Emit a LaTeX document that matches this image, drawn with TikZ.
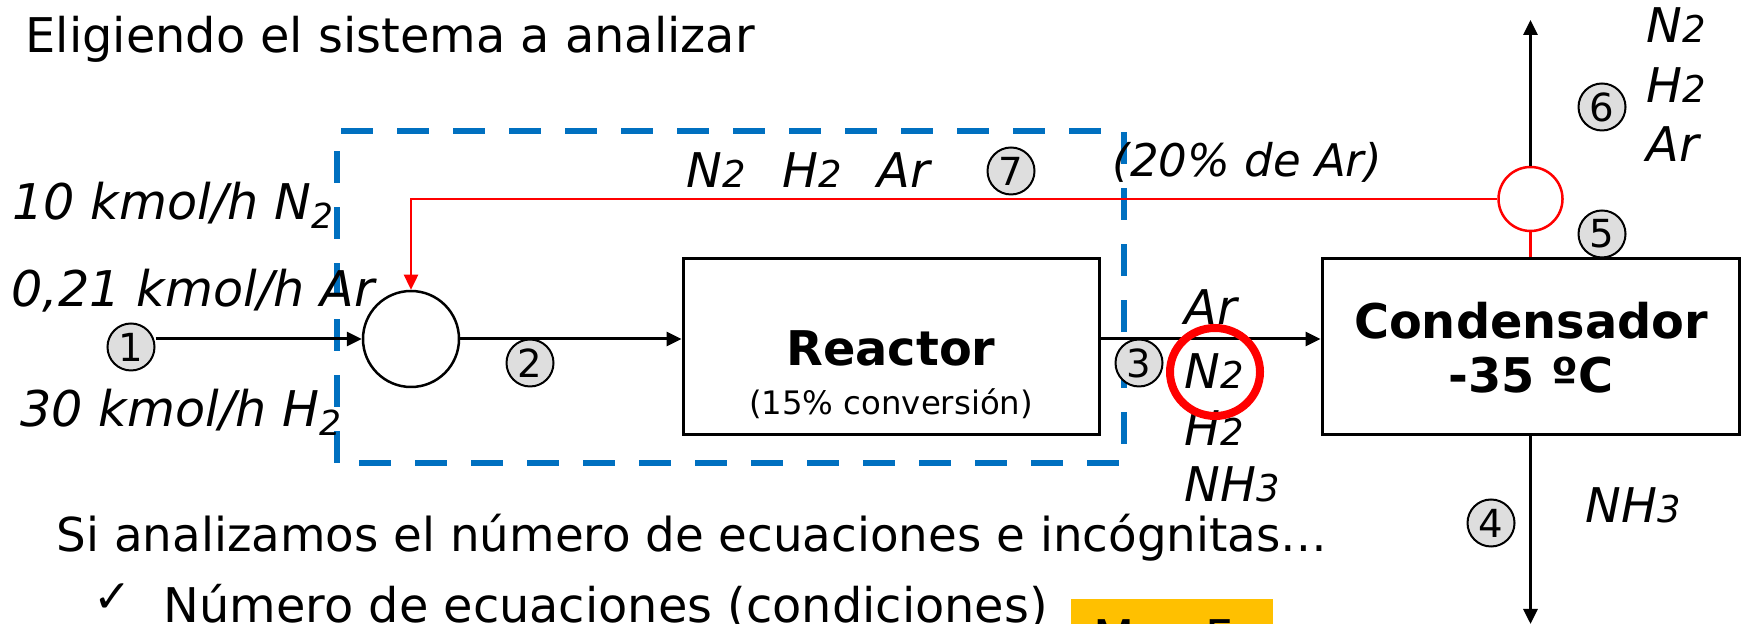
\documentclass[tikz,border=0pt]{standalone}
\usepackage{fontspec}
\setmainfont{DejaVu Sans}
\usetikzlibrary{arrows.meta, positioning, calc}

\definecolor{sysblue}{HTML}{0070C0}
\definecolor{hlyellow}{HTML}{FFC000}
\newcommand\mainsz{\fontsize{13.6}{16}\selectfont}
\newcommand\cmpd[2]{#1{\fontsize{10.5}{12}\selectfont #2}}

\begin{document}
\begin{tikzpicture}[
    >={Triangle[length=0.15cm, width=0.14cm]},
    txt/.style={anchor=base west, inner sep=0, font=\mainsz},
    species/.style={anchor=base west, inner sep=0, font=\mainsz\itshape},
    unit/.style={draw, line width=0.03cm, minimum width=4.16cm,
                 minimum height=1.76cm},
    num/.style={draw, circle, fill=black!13, line width=0.02cm,
                minimum size=0.47cm, inner sep=0,
                font=\fontsize{11}{12}\selectfont},
    flow/.style={->, line width=0.03cm},
    recyc/.style={red, line width=0.025cm}
  ]
  \useasboundingbox (0,0) rectangle (17.44,6.24);

  % Title
  \node[txt] (title) at (0.25,5.71) {Eligiendo el sistema a analizar};

  % System boundary
  \draw[sysblue, line width=0.06cm, dash pattern=on 0.32cm off 0.24cm]
    (3.37,1.61) rectangle (11.24,4.93);

  % Units
  \node[draw, circle, line width=0.025cm, minimum size=0.96cm, inner sep=0]
    (mix) at (4.11,2.85) {};
  \node[unit] (reac) at (8.91,2.77) {};
  \node[font=\mainsz\bfseries, anchor=base] (reactxt) at (8.91,2.58) {Reactor};
  \node[font=\fontsize{9.2}{10}\selectfont, anchor=base] (reacsub)
    at (8.91,2.09) {(15\% conversión)};
  \node[unit, minimum width=4.17cm] (cond) at (15.305,2.775) {};
  \node[font=\mainsz\bfseries, anchor=base] (condtxt) at (15.31,2.85) {Condensador};
  \node[font=\mainsz\bfseries, anchor=base] (condtmp) at (15.31,2.31) {-35 ºC};
  \node[draw=red, circle, line width=0.025cm, minimum size=0.64cm, inner sep=0]
    (split) at (15.305,4.25) {};

  % Stream numbers
  \foreach \n/\x/\y in {1/1.31/2.77, 2/5.30/2.61, 3/11.39/2.61, 4/14.91/1.01,
                        5/16.02/3.90, 6/16.02/5.17, 7/10.11/4.53} {
    \node[num] (n\n) at (\x,\y) {\n};
  }

  % Streams
  \coordinate (s3) at (reac.east |- mix.east);
  \coordinate (out4) at (15.305,0);
  \coordinate (out6) at (15.305,6.04);
  \draw[flow] (n1.east |- mix.west) -- (mix.west);
  \draw[flow] (mix.east) -- (mix.east -| reac.west);
  \draw[flow] (s3) -- (s3 -| cond.west);
  \draw[flow] (cond.south) -- (out4);
  \draw[recyc] (cond.north) -- (split.south);
  \draw[flow] (split.north) -- (out6);
  \draw[recyc, ->] (split.west) -| (mix.north);

  % Feed
  \node[species, font=\fontsize{14}{16}\selectfont\itshape] (f1)
    at (0.12,4.04) {10 kmol/h N\textsubscript{2}};
  \node[species, font=\fontsize{14}{16}\selectfont\itshape] (f2)
    at (0.11,3.17) {0,21 kmol/h Ar};
  \node[species, font=\fontsize{14}{16}\selectfont\itshape] (f3)
    at (0.20,1.97) {30 kmol/h H\textsubscript{2}};

  % Recycle
  \node[species] (r1) at (6.86,4.36) {\cmpd{N}{2}};
  \node[species] (r2) at (7.82,4.36) {\cmpd{H}{2}};
  \node[species] (r3) at (8.77,4.36) {Ar};
  \node[species, font=\fontsize{12.8}{15}\selectfont\itshape] (purge)
    at (11.12,4.47) {(20\% de Ar)};

  % Reactor outlet
  \node[species] (o1) at (11.84,2.99) {Ar};
  \node[species] (o2) at (11.84,2.35) {\cmpd{N}{2}};
  \node[species] (o3) at (11.84,1.78) {\cmpd{H}{2}};
  \node[species] (o4) at (11.84,1.22) {\cmpd{NH}{3}};
  \draw[red, line width=0.08cm] (12.15,2.52) ellipse (0.45 and 0.44);

  % Gas and liquid out
  \node[species] (g1) at (16.46,5.81) {\cmpd{N}{2}};
  \node[species] (g2) at (16.46,5.21) {\cmpd{H}{2}};
  \node[species] (g3) at (16.46,4.62) {Ar};
  \node[species] (l1) at (15.85,1.01) {\cmpd{NH}{3}};

  % Bottom text
  \node[txt, font=\fontsize{13.3}{16}\selectfont] (ask) at (0.56,0.72)
    {Si analizamos el número de ecuaciones e incógnitas…};
  \node[txt, font=\fontsize{13}{14}\selectfont] (chk) at (0.93,0.11) {✓};
  \node[txt] (eqs) at (1.63,0.01) {Número de ecuaciones (condiciones)};
  \node[fill=hlyellow, anchor=north west, minimum width=2.02cm,
        minimum height=0.7cm, inner sep=0] (mf) at (10.70,0.26) {};
  \node[txt] (mftxt) at (10.93,-0.31) {M = F};
\end{tikzpicture}
\end{document}
